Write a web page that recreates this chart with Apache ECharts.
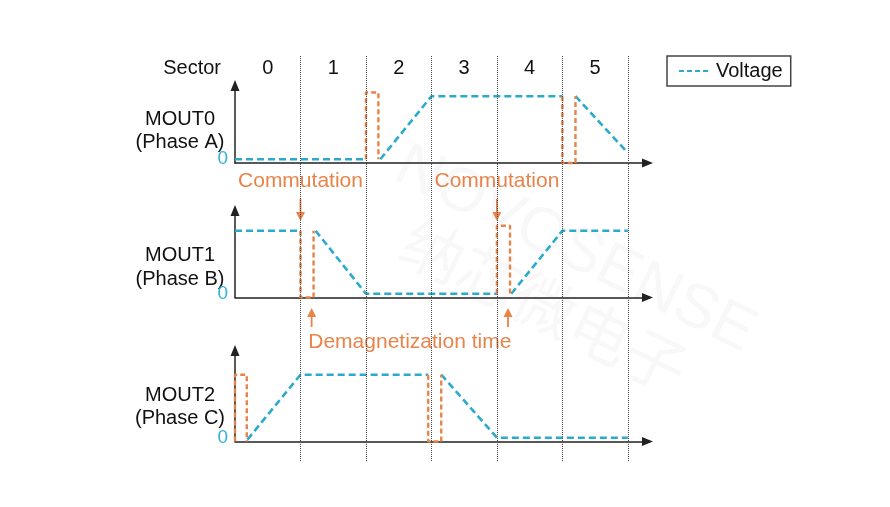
<!DOCTYPE html>
<html>
<head>
<meta charset="utf-8">
<script src="https://cdn.jsdelivr.net/npm/echarts@6/dist/echarts.min.js"></script>
<style>
html,body{margin:0;padding:0;background:#fff;}
#chart{width:890px;height:507px;}
</style>
</head>
<body>
<div id="chart"></div>
<script>
// ---- data ----
const sectorLabels = ['0', '1', '2', '3', '4', '5'];
const sectorBoundaries = [1, 2, 3, 4, 5, 6];
const panelNames = [['MOUT0', '(Phase A)'], ['MOUT1', '(Phase B)'], ['MOUT2', '(Phase C)']];

// voltage segments (x in sectors, y normalised: 0 = low, 1 = high)
const voltageA = [[[0, 0], [2, 0]], [[2.22, 0], [3, 1], [5, 1]], [[5.2, 1], [6, 0.1]]];
const voltageB = [[[0, 1], [1, 1]], [[1.23, 1], [2, 0], [4, 0]], [[4.22, 0], [5, 1], [6, 1]]];
const voltageC = [[[0.19, -0.03], [1, 1], [2.95, 1]], [[3.15, 1], [4, 0], [6, 0]]];

// demagnetization pulses
const pulseA = [[[2, 0], [2, 1.06], [2.19, 1.06], [2.19, 0]], [[5, 1], [5, -0.06], [5.2, -0.06], [5.2, 1]]];
const pulseB = [[[1, 1], [1, -0.06], [1.2, -0.06], [1.2, 1]], [[4, 0], [4, 1.08], [4.2, 1.08], [4.2, 0]]];
const pulseC = [[[0, -0.06], [0, 1], [0.18, 1], [0.18, -0.06]], [[2.95, 1], [2.95, -0.06], [3.15, -0.06], [3.15, 1]]];

const commutationX = [1, 4];
const demagX = [1.17, 4.17];

// ---- style ----
const BLUE = '#2aabcc';
const ORANGE = '#e8834a';
const FONT = "'Liberation Sans', Arial, sans-serif";
const X_MAX = 6.3;
const Y_MIN = -0.06;
const UNIT = 63;
const panels = [
  { top: 85.5, height: 77.5, volt: voltageA, pulse: pulseA },
  { top: 210.5, height: 87, volt: voltageB, pulse: pulseB },
  { top: 350.5, height: 91, volt: voltageC, pulse: pulseC }
];

const grid = [], xAxis = [], yAxis = [], series = [];
panels.forEach((p, i) => {
  grid.push({ left: 235, right: 242.5, top: p.top, height: p.height });
  xAxis.push({
    type: 'value', gridIndex: i, min: 0, max: X_MAX,
    axisLine: { show: true, onZero: false, symbol: ['none', 'triangle'], symbolSize: [9, 11], lineStyle: { color: '#222', width: 1.5 } },
    axisTick: { show: false }, axisLabel: { show: false }, splitLine: { show: false }
  });
  yAxis.push({
    type: 'value', gridIndex: i, min: Y_MIN, max: Y_MIN + p.height / UNIT, interval: 0.06,
    axisLine: { show: true, onZero: false, symbol: ['none', 'triangle'], symbolSize: [9, 11], lineStyle: { color: '#222', width: 1.5 } },
    axisTick: { show: false }, splitLine: { show: false },
    axisLabel: {
      color: '#36b2d6', fontSize: 19, fontFamily: FONT, margin: 7, padding: [8, 0, 0, 0],
      formatter: v => (Math.abs(v) < 1e-6 ? '0' : '')
    }
  });
  p.volt.forEach(seg => series.push({
    name: 'Voltage', type: 'line', xAxisIndex: i, yAxisIndex: i, data: seg,
    showSymbol: false, symbol: 'none', clip: false, z: 3, silent: true,
    lineStyle: { color: BLUE, width: 2.6, type: [7, 4] }, itemStyle: { color: BLUE }
  }));
  p.pulse.forEach(seg => series.push({
    name: 'Demag', type: 'line', xAxisIndex: i, yAxisIndex: i, data: seg,
    showSymbol: false, symbol: 'none', clip: false, z: 4, silent: true,
    lineStyle: { color: ORANGE, width: 2.4, type: [5, 3] }, itemStyle: { color: ORANGE }
  }));
});

// overlay grid for sector boundaries
grid.push({ left: 235, right: 242.5, top: 56, height: 406 });
xAxis.push({ type: 'value', gridIndex: 3, min: 0, max: X_MAX, show: false });
yAxis.push({ type: 'value', gridIndex: 3, min: 0, max: 406, inverse: true, show: false });
series.push({
  type: 'line', xAxisIndex: 3, yAxisIndex: 3, data: [], silent: true, z: 1,
  markLine: {
    silent: true, symbol: 'none', label: { show: false },
    lineStyle: { color: '#444', width: 1, type: 'dotted' },
    data: sectorBoundaries.map(v => ({ xAxis: v }))
  }
});

const chart = echarts.init(document.getElementById('chart'), null, { renderer: 'canvas' });
chart.setOption({
  animation: false,
  backgroundColor: '#fff',
  grid, xAxis, yAxis, series,
  legend: {
    data: [{ name: 'Voltage', itemStyle: { color: 'rgba(0,0,0,0)', borderWidth: 0 } }],
    left: 667, top: 56,
    padding: [5, 8, 5, 11], itemWidth: 32, itemHeight: 14, itemGap: 7,
    borderColor: '#444', borderWidth: 1.5, borderRadius: 0,
    lineStyle: { width: 2, type: [5, 3] },
    textStyle: { fontSize: 20, fontFamily: FONT, color: '#111' }
  }
});

// annotations positioned through the chart's own scales
const px = x => chart.convertToPixel({ xAxisIndex: 0 }, x);
const graphics = [];
// very faint watermark
graphics.push({
  type: 'text', x: 575, y: 250, rotation: -0.46, silent: true, z: -10,
  style: { text: 'NOVOSENSE', fontSize: 62, fontFamily: FONT, fill: '#f8f8f8', textAlign: 'center', textVerticalAlign: 'middle' }
});
graphics.push({
  type: 'text', x: 545, y: 305, rotation: -0.46, silent: true, z: -10,
  style: { text: '纳芯微电子', fontSize: 62, fontFamily: "'Noto Sans CJK SC', sans-serif", fill: '#f8f8f8', textAlign: 'center', textVerticalAlign: 'middle' }
});
const txt = (x, y, text, opts) => graphics.push({
  type: 'text', x, y, silent: true,
  style: Object.assign({ text, fontSize: 20, fontFamily: FONT, fill: '#111', textAlign: 'center', textVerticalAlign: 'middle' }, opts || {})
});
txt(221, 68, 'Sector', { textAlign: 'right' });
sectorLabels.forEach((s, i) => txt(px(i + 0.5), 68, s));
const rows = [[119, 142], [255, 279], [395, 418]];
panelNames.forEach((n, i) => { txt(180, rows[i][0], n[0]); txt(180, rows[i][1], n[1]); });

const arrow = (x, y0, y1) => {
  const dir = y1 > y0 ? 1 : -1;
  graphics.push({ type: 'line', silent: true, shape: { x1: x, y1: y0, x2: x, y2: y1 - dir * 7 }, style: { stroke: ORANGE, lineWidth: 1.8 } });
  graphics.push({ type: 'polygon', silent: true, shape: { points: [[x - 4.5, y1 - dir * 9], [x + 4.5, y1 - dir * 9], [x, y1]] }, style: { fill: ORANGE } });
};
commutationX.forEach(v => {
  const x = px(v);
  txt(x, 181, 'Commutation', { fill: ORANGE, fontSize: 21 });
  arrow(x, 199, 221);
});
demagX.forEach(v => arrow(px(v), 327, 308));
txt((px(demagX[0]) + px(demagX[1])) / 2, 342, 'Demagnetization time', { fill: ORANGE, fontSize: 21 });

chart.setOption({ graphic: graphics });
</script>
</body>
</html>
